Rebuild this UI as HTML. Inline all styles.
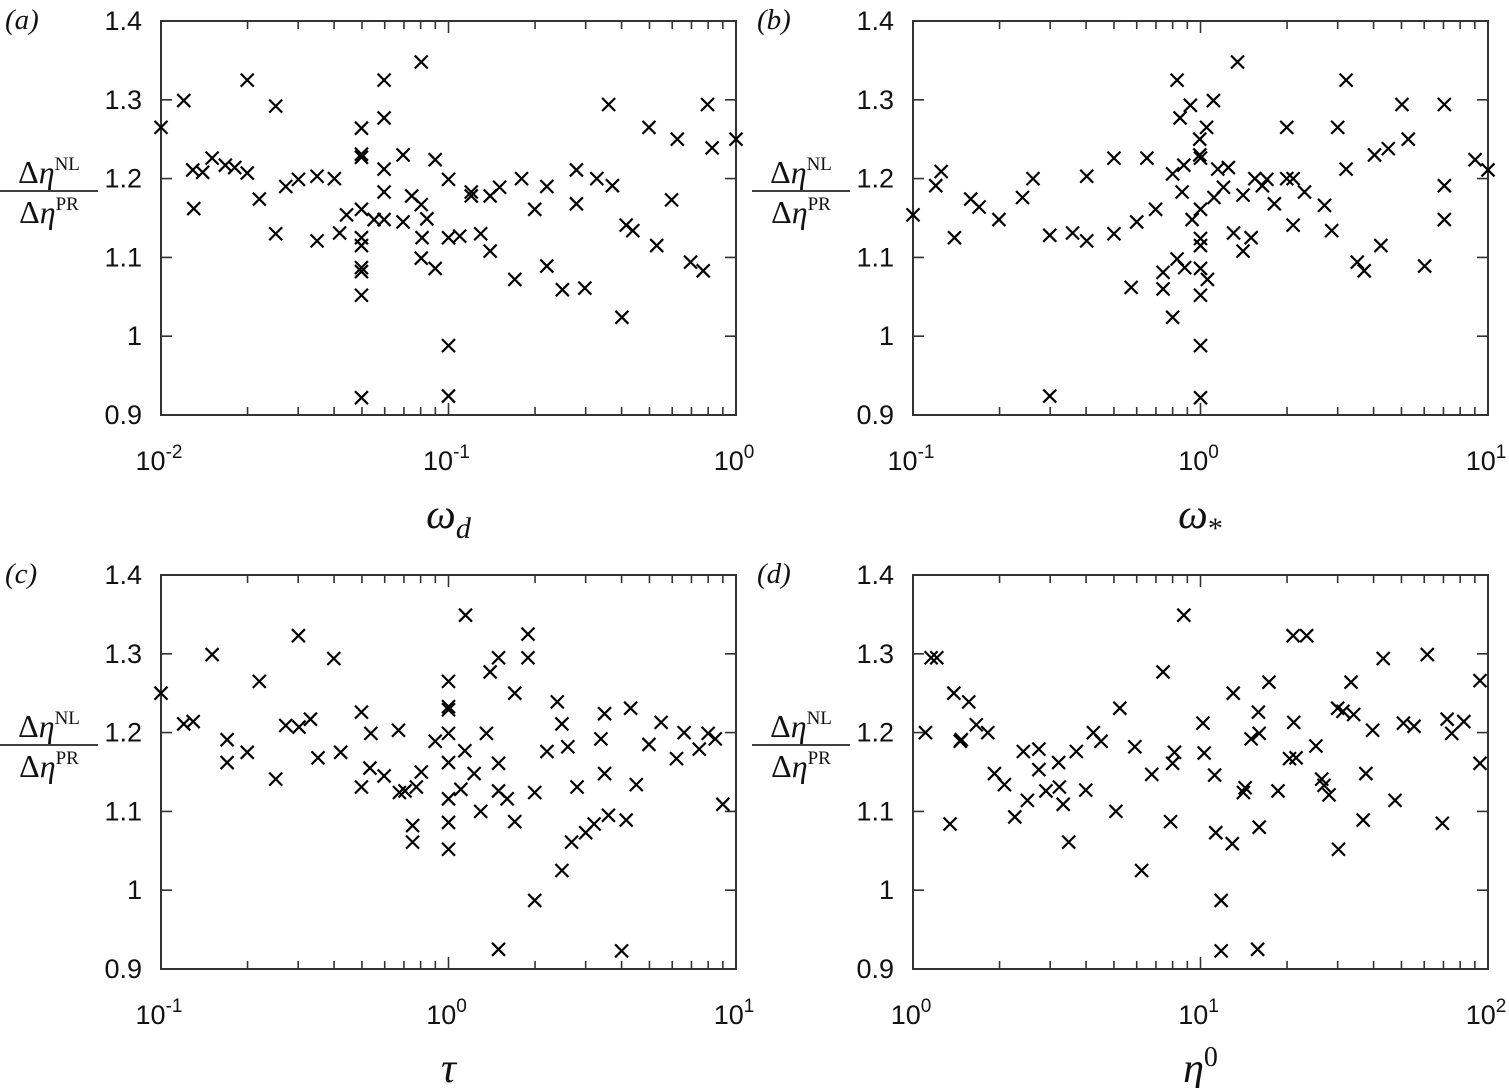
<!DOCTYPE html>
<html><head><meta charset="utf-8"><style>
html,body{margin:0;padding:0;background:#fff;}
svg{display:block;}
text{font-family:"Liberation Sans",sans-serif;fill:#111;}
.ser{font-family:"Liberation Serif",serif;font-style:italic;}
</style></head><body>
<svg id="chart" width="1509" height="1088" viewBox="0 0 1509 1088" xmlns="http://www.w3.org/2000/svg"></svg>
<script>
const yTicks=[0.9,1,1.1,1.2,1.3,1.4];
const yTickLabels=["0.9","1","1.1","1.2","1.3","1.4"];
const aX=[0.01,0.012,0.0129,0.01396,0.01506,0.0130,0.01674,0.01805,0.01995,0.01995,0.02198,0.02506,0.02506,0.02716,0.03006,0.0349,0.0349,0.0401,0.0418,0.0442,0.0498,0.0498,0.0498,0.0498,0.0498,0.0498,0.0498,0.0498,0.0498,0.0498,0.0551,0.0597,0.0597,0.0597,0.0597,0.0597,0.0695,0.0695,0.0745,0.0804,0.0804,0.0809,0.0804,0.0841,0.0899,0.0899,0.1,0.1,0.1,0.1,0.1094,0.12,0.12,0.1294,0.1396,0.1396,0.1506,0.170,0.1795,0.1995,0.2198,0.2198,0.249,0.2786,0.2786,0.298,0.328,0.3606,0.3715,0.401,0.415,0.4375,0.498,0.53,0.597,0.625,0.695,0.769,0.796,0.826,1.0];
const aY=[1.265,1.299,1.211,1.208,1.226,1.162,1.217,1.214,1.325,1.207,1.174,1.292,1.130,1.190,1.199,1.203,1.121,1.200,1.131,1.154,1.264,1.231,1.227,1.161,1.125,1.115,1.087,1.082,1.052,0.922,1.148,1.325,1.277,1.212,1.183,1.148,1.230,1.145,1.178,1.348,1.167,1.125,1.099,1.149,1.224,1.086,1.199,1.125,0.988,0.924,1.127,1.178,1.183,1.130,1.178,1.108,1.189,1.072,1.200,1.161,1.190,1.089,1.059,1.211,1.168,1.061,1.200,1.294,1.191,1.024,1.141,1.134,1.265,1.115,1.173,1.250,1.094,1.083,1.294,1.239,1.250];
const bX=[0.1,0.12,0.1253,0.1394,0.1588,0.1698,0.199,0.2404,0.2614,0.299,0.299,0.359,0.402,0.402,0.5,0.5,0.574,0.6,0.651,0.698,0.741,0.741,0.8,0.8,0.829,0.829,0.849,0.863,0.875,0.881,0.922,0.935,0.994,0.994,1,1,1,1,1,1,1,1,1.05,1.057,1.109,1.114,1.148,1.202,1.25,1.303,1.345,1.406,1.406,1.5,1.545,1.641,1.702,1.807,1.995,1.995,2.1,2.1,2.3,2.7,2.86,3.0,3.21,3.21,3.51,3.71,4.03,4.24,4.5,5.02,5.28,6.02,7.05,7.05,7.05,9.02,10];
const bY=[1.154,1.191,1.209,1.125,1.174,1.164,1.148,1.176,1.200,0.924,1.128,1.131,1.203,1.121,1.226,1.130,1.062,1.145,1.226,1.161,1.060,1.081,1.024,1.206,1.325,1.098,1.277,1.183,1.217,1.087,1.293,1.148,1.250,1.230,1.226,1.161,1.124,1.115,1.086,1.052,0.988,0.922,1.265,1.072,1.299,1.176,1.212,1.189,1.214,1.131,1.348,1.179,1.108,1.125,1.200,1.191,1.199,1.168,1.265,1.200,1.200,1.141,1.183,1.166,1.134,1.265,1.325,1.212,1.094,1.083,1.230,1.115,1.238,1.294,1.250,1.089,1.294,1.191,1.148,1.224,1.211];
const cX=[0.1,0.12,0.1294,0.1506,0.1698,0.1698,0.1995,0.2198,0.2506,0.2716,0.3006,0.302,0.331,0.3516,0.399,0.4217,0.498,0.498,0.537,0.533,0.597,0.670,0.675,0.706,0.75,0.75,0.773,0.804,0.899,1,1,1,1,1,1,1,1,1.104,1.14,1.146,1.228,1.294,1.355,1.396,1.493,1.493,1.493,1.493,1.6,1.70,1.70,1.89,1.89,1.995,1.995,2.2,2.39,2.48,2.48,2.6,2.68,2.80,3.0,3.21,3.39,3.49,3.49,3.6,4.0,4.15,4.3,4.5,4.98,5.49,6.21,6.6,7.45,8.0,8.47,9.0];
const cY=[1.250,1.211,1.214,1.299,1.191,1.162,1.175,1.265,1.141,1.209,1.323,1.207,1.217,1.168,1.294,1.175,1.226,1.131,1.199,1.155,1.145,1.203,1.124,1.126,1.082,1.061,1.131,1.150,1.189,1.265,1.233,1.229,1.199,1.162,1.116,1.086,1.052,1.128,1.177,1.349,1.148,1.100,1.199,1.277,1.295,1.161,1.126,0.925,1.116,1.250,1.087,1.325,1.295,0.987,1.124,1.176,1.239,1.211,1.025,1.182,1.061,1.131,1.073,1.084,1.192,1.224,1.148,1.095,0.923,1.089,1.231,1.134,1.185,1.213,1.167,1.200,1.179,1.199,1.192,1.109];
const dX=[1.105,1.156,1.21,1.345,1.387,1.472,1.46,1.563,1.66,1.82,1.92,2.08,2.26,2.42,2.5,2.74,2.74,2.9,3.21,3.23,3.33,3.48,3.70,3.99,4.24,4.51,5.08,5.24,5.91,6.24,6.77,7.41,7.87,8.12,8.0,8.75,10.2,10.3,11.2,11.3,11.8,11.8,12.9,13.0,14.1,14.3,15.0,15.8,15.9,16.0,16.0,17.3,18.6,20.4,21.0,21.1,21.5,23.4,25.2,26.4,26.9,28.0,30.2,30.0,31.3,33.4,34.1,36.8,37.6,39.7,43.2,47.5,50.8,55.3,61.5,69.4,72.1,74.8,82.4,93.8,93.8];
const dY=[1.200,1.295,1.295,1.084,1.250,1.191,1.189,1.239,1.210,1.200,1.148,1.134,1.093,1.176,1.114,1.179,1.153,1.126,1.162,1.131,1.109,1.061,1.176,1.127,1.200,1.189,1.100,1.231,1.182,1.025,1.147,1.277,1.087,1.175,1.161,1.349,1.212,1.174,1.146,1.073,0.987,0.923,1.059,1.250,1.124,1.130,1.192,0.925,1.226,1.199,1.080,1.264,1.126,1.167,1.323,1.213,1.168,1.323,1.183,1.141,1.133,1.121,1.052,1.231,1.227,1.264,1.223,1.089,1.148,1.203,1.294,1.114,1.212,1.208,1.299,1.085,1.217,1.199,1.214,1.266,1.161];

const NS="http://www.w3.org/2000/svg";
const svg=document.getElementById('chart');
function el(tag,attrs,parent){const e=document.createElementNS(NS,tag);for(const k in attrs)e.setAttribute(k,attrs[k]);(parent||svg).appendChild(e);return e;}

function panel(id,L,R,T,B,xmin,xmax,xs,ys,letter,xlabelHTML,labelY){
  const g=el('g',{});
  
  
  const lx0=Math.log10(xmin),lx1=Math.log10(xmax);
  const sx=v=>L+(Math.log10(v)-lx0)/(lx1-lx0)*(R-L);
  const sy=v=>B-(v-0.9)/0.5*(B-T);
  yTicks.forEach((t,i)=>{
    const y=sy(t);
    const tk=el('path',{d:`M${L},${y}h11M${R},${y}h-11`,stroke:'#333','stroke-width':1.6,fill:'none'},g);
    
    
    const tl=el('text',{x:L-19,y:y+9,'text-anchor':'end','font-size':27},g);
    
    
    tl.textContent=yTickLabels[i];
  });
  for(let d=lx0;d<=lx1;d++){
    for(let m=1;m<=9;m++){
      const v=Math.pow(10,d)*m; if(v>xmax*1.0001)break;
      const x=sx(v); const len=(m===1)?12:8;
      if(!(x<=L+0.5||x>=R-0.5)){
        const tk=el('path',{d:`M${x},${B}v-${len}M${x},${T}v${len}`,stroke:'#333','stroke-width':1.6},g);
        
        
      }
      if(m===1){
        const tl=el('text',{x:x-2,y:B+55,'text-anchor':'middle','font-size':27},g);
        
        
        tl.innerHTML='10<tspan dy="-12" font-size="19">'+d+'</tspan>';
      }
    }
  }
  const box=el('rect',{x:L,y:T,width:R-L,height:B-T,fill:'none',stroke:'#333','stroke-width':2},g);
  
  
  for(let i=0;i<xs.length;i++){
    const x=sx(xs[i]),y=sy(ys[i]),h=6.5;
    const p=el('path',{d:`M${x-h},${y-h}L${x+h},${y+h}M${x-h},${y+h}L${x+h},${y-h}`,stroke:'#000','stroke-width':2.2,fill:'none'},g);
    
    
  }
  const pl=el('text',{x:L-156,y:T+8,'font-size':29,class:'ser'},g);
  
  
  pl.textContent='('+letter+')';
  const yc=T+170, xc=L-112;
  const n=el('text',{x:xc,y:yc-8,'text-anchor':'middle','font-size':32,class:'ser'},g);
  
  
  n.innerHTML='<tspan font-style="normal">Δ</tspan>η<tspan dy="-13" font-size="19" font-style="normal">NL</tspan>';
  const bar=el('line',{x1:xc-49,x2:xc+49,y1:yc,y2:yc,stroke:'#000','stroke-width':1.6},g);
  
  
  const dn=el('text',{x:xc,y:yc+32,'text-anchor':'middle','font-size':32,class:'ser'},g);
  
  
  dn.innerHTML='<tspan font-style="normal">Δ</tspan>η<tspan dy="-13" font-size="19" font-style="normal">PR</tspan>';
  const xl=el('text',{x:(L+R)/2,y:labelY,'text-anchor':'middle','font-size':42,class:'ser'},g);
  
  
  xl.innerHTML=xlabelHTML;
}
panel('a',161,736,21,415,0.01,1,aX,aY,'a','ω<tspan dy="10" font-size="30">d</tspan>',528);
panel('b',913,1488,21,415,0.1,10,bX,bY,'b','ω<tspan dy="10" font-size="30" font-style="normal">*</tspan>',528);
panel('c',161,736,575,969,0.1,10,cX,cY,'c','τ',1082);
panel('d',913,1488,575,969,1,100,dX,dY,'d','η<tspan dy="-16" font-size="28" font-style="normal">0</tspan>',1082);
</script>
</body></html>
